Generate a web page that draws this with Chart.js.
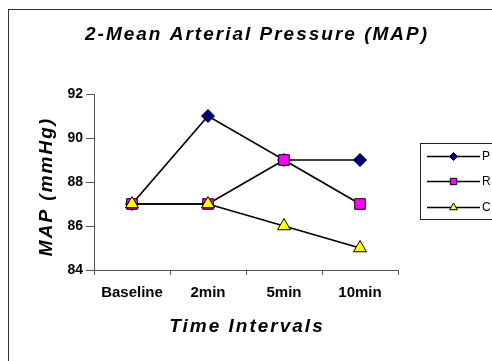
<!DOCTYPE html>
<html>
<head>
<meta charset="utf-8">
<script src="https://cdn.jsdelivr.net/npm/chart.js@4.4.1/dist/chart.umd.min.js"></script>
<style>
html,body{margin:0;padding:0;background:#fff;}
#wrap{width:492px;height:361px;position:relative;}
</style>
</head>
<body>
<div id="wrap"><canvas id="c" width="492" height="361"></canvas></div>
<script>
const chartTitle = "2-Mean Arterial Pressure (MAP)";
const xAxisTitle = "Time Intervals";
const yAxisTitle = "MAP (mmHg)";
const categories = ["Baseline", "2min", "5min", "10min"];
const seriesNames = ["P", "R", "C"];
const seriesP = [87, 91, 89, 89];
const seriesR = [87, 87, 89, 87];
const seriesC = [87, 87, 86, 85];
const yTicks = [84, 86, 88, 90, 92];

const FONT = "'Liberation Sans', Arial, sans-serif";

const styles = [
  {style: 'rectRot', fill: '#000080', r: 6.5, lr: 4, order: 3},
  {style: 'rect', fill: '#FF00FF', r: 7.5, lr: 4.5, order: 2},
  {style: 'triangle', fill: '#FFFF00', r: 7.5, lr: 4.5, order: 1}
];
const seriesData = [seriesP, seriesR, seriesC];

const datasets = seriesNames.map((n, i) => ({
  label: n,
  data: seriesData[i],
  borderColor: '#000',
  borderWidth: 1.7,
  tension: 0,
  pointStyle: styles[i].style,
  pointRadius: styles[i].r,
  pointHoverRadius: styles[i].r,
  pointBackgroundColor: styles[i].fill,
  pointBorderColor: '#000',
  pointBorderWidth: 1,
  order: styles[i].order
}));

const decor = {
  id: 'decor',
  beforeDraw(chart) {
    chart.ctx.letterSpacing = '0px';
  },
  afterDraw(chart) {
    const ctx = chart.ctx;
    ctx.save();
    ctx.strokeStyle = '#333';
    ctx.lineWidth = 1;
    ctx.strokeRect(8.5, 9.5, 600, 600);

    ctx.fillStyle = '#000';
    ctx.font = `italic bold 19px ${FONT}`;
    ctx.letterSpacing = '2px';
    ctx.textAlign = 'center';
    ctx.textBaseline = 'alphabetic';
    ctx.fillText(chartTitle, 257, 39.5);
    ctx.fillText(xAxisTitle, 247, 331.5);
    ctx.save();
    ctx.translate(51.5, 186.5);
    ctx.rotate(-Math.PI / 2);
    ctx.fillText(yAxisTitle, 0, 0);
    ctx.restore();
    ctx.letterSpacing = '0px';

    // legend
    ctx.strokeStyle = '#222';
    ctx.lineWidth = 1;
    ctx.strokeRect(420.5, 143.5, 200, 76);
    const ly = [156.5, 181.5, 207.5];
    ctx.font = `12px ${FONT}`;
    ctx.textAlign = 'left';
    ctx.textBaseline = 'middle';
    chart.data.datasets.forEach((ds, i) => {
      ctx.strokeStyle = '#000';
      ctx.lineWidth = 1.6;
      ctx.beginPath();
      ctx.moveTo(427, ly[i]);
      ctx.lineTo(480, ly[i]);
      ctx.stroke();
      ctx.fillStyle = ds.pointBackgroundColor;
      ctx.strokeStyle = '#000';
      ctx.lineWidth = 1;
      Chart.helpers.drawPoint(ctx, {pointStyle: ds.pointStyle, rotation: 0, radius: styles[i].lr, borderWidth: 1}, 453.5, ly[i]);
      ctx.fillStyle = '#000';
      ctx.fillText(ds.label, 482, ly[i] + 0.5);
    });
    ctx.restore();
  }
};

new Chart(document.getElementById('c'), {
  type: 'line',
  data: {labels: categories, datasets: datasets},
  options: {
    responsive: false,
    animation: false,
    events: [],
    layout: {padding: {left: 54, right: 94, top: 94, bottom: 51}},
    plugins: {legend: {display: false}, title: {display: false}, tooltip: {enabled: false}},
    scales: {
      x: {
        type: 'category',
        offset: true,
        grid: {display: true, drawOnChartArea: false, drawTicks: true, tickLength: 5, color: '#555', offset: true},
        border: {display: true, color: '#555', width: 1},
        ticks: {color: '#000', font: {family: FONT, size: 15, weight: 'bold'}, padding: 9, maxRotation: 0, autoSkip: false},
        afterFit(s) { s.height = 40; }
      },
      y: {
        min: 84, max: 92,
        afterBuildTicks(s) { s.ticks = yTicks.map(v => ({value: v})); },
        grid: {display: true, drawOnChartArea: false, drawTicks: true, tickLength: 8, color: '#555'},
        border: {display: true, color: '#555', width: 1},
        ticks: {color: '#000', font: {family: FONT, size: 14, weight: 'bold'}, padding: 3},
        afterFit(s) { s.width = 40; }
      }
    }
  },
  plugins: [decor]
});
</script>
</body>
</html>
